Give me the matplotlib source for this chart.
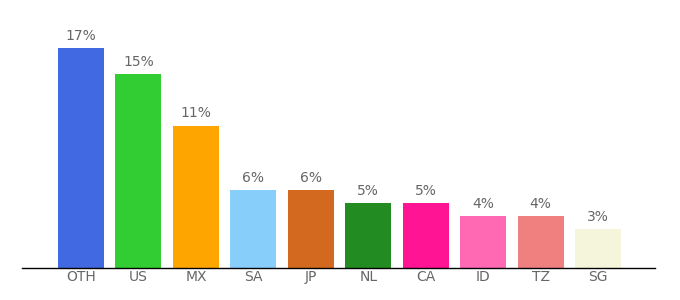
import matplotlib
matplotlib.use("Agg")
import matplotlib.pyplot as plt

# country shares (percent)
countries = ["OTH", "US", "MX", "SA", "JP", "NL", "CA", "ID", "TZ", "SG"]
shares = [17, 15, 11, 6, 6, 5, 5, 4, 4, 3]
colors = ["#4169E1", "#32CD32", "#FFA500", "#87CEFA", "#D2691E",
          "#228B22", "#FF1493", "#FF69B4", "#F08080", "#F5F5DC"]

fig = plt.figure(figsize=(6.8, 3.0), dpi=100)
ax = fig.add_axes([22 / 680, 1 - 268 / 300, (655 - 22) / 680, (268 - 20) / 300])

x = list(range(len(countries)))
bars = ax.bar(x, shares, width=0.8, color=colors)

for b, v in zip(bars, shares):
    ax.text(b.get_x() + b.get_width() / 2, v + 0.4, f"{v}%",
            ha="center", va="bottom", fontsize=10, color="#666666")

ax.set_xlim(-1.027, 9.99)
ax.set_ylim(0, 17 * 248 / 220)
ax.set_xticks(x)
ax.set_xticklabels(countries, fontsize=10, color="#666666")
ax.tick_params(axis="x", length=0, pad=1.5)
ax.set_yticks([])
for side in ["top", "right", "left"]:
    ax.spines[side].set_visible(False)
ax.spines["bottom"].set_color("black")
ax.spines["bottom"].set_linewidth(1)

fig.savefig("out.png", dpi=100)
